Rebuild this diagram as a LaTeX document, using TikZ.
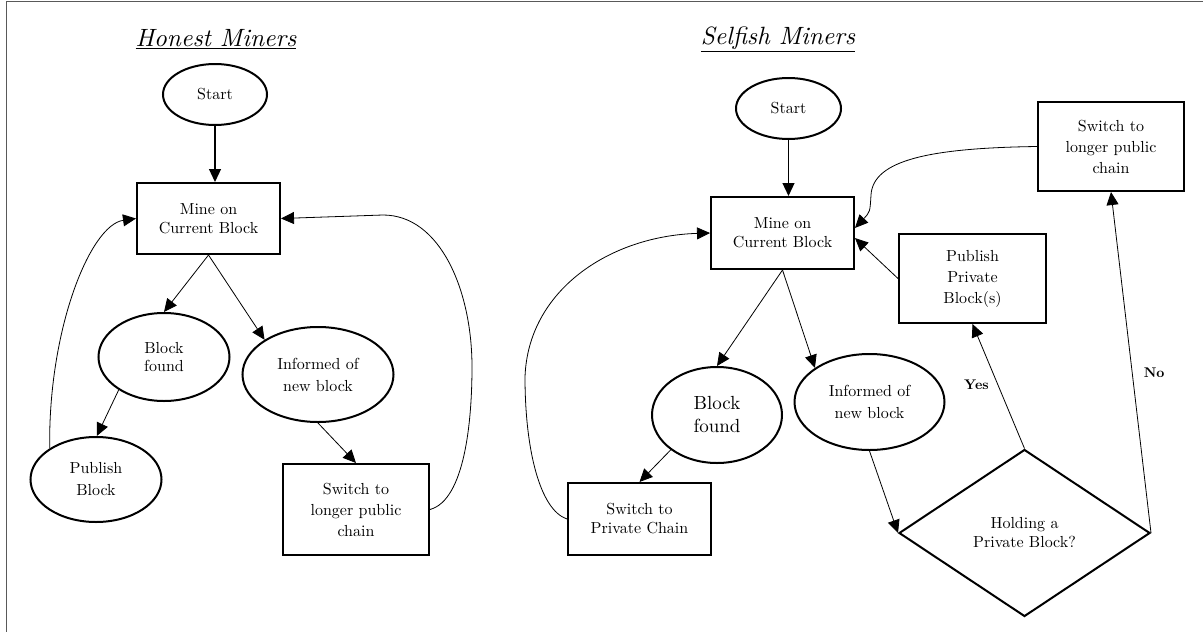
\documentclass[tikz,border=0pt]{standalone}
\usepackage{fontspec}
\setmainfont{lmroman10-regular.otf}[ItalicFont=lmroman10-italic.otf, BoldFont=lmroman10-bold.otf, BoldItalicFont=lmroman10-bolditalic.otf]
\usetikzlibrary{shapes.geometric,arrows.meta}
\begin{document}
\begin{tikzpicture}[x=1pt,y=-1pt,
  every node/.style={font=\fontsize{16}{21}\selectfont, align=center, inner sep=0pt},
  ell/.style={ellipse, draw, line width=2pt},
  box/.style={rectangle, draw, line width=2pt},
  dia/.style={diamond, draw, line width=2pt},
  conn/.style={line width=0.8pt, -{Triangle[length=13pt,width=12pt]}},
  sconn/.style={conn, line width=1.2pt},
  ttl/.style={font=\fontsize{25}{30}\selectfont\itshape},
  lbl/.style={font=\fontsize{14}{16}\selectfont\bfseries}]
\useasboundingbox (0,0) rectangle (1203,632);
\draw[line width=1pt, black!65] (6.5,632) -- (6.5,1.7) -- (1203,1.7);

% ---------- Honest miners ----------
\node[ttl] (hTitle) at (216,39) {\underline{Honest Miners}};
\node[ell, minimum width=104pt, minimum height=61pt] (hStart) at (215,94.5) {Start};
\node[box, minimum width=143pt, minimum height=71pt, font=\fontsize{16}{19}\selectfont] (hMine) at (208.5,218.5) {Mine on\\Current Block};
\node[ell, minimum width=131pt, minimum height=88pt, font=\fontsize{16}{18}\selectfont] (hBF) at (164,357) {Block\\found};
\node[ell, minimum width=151pt, minimum height=95pt, font=\fontsize{16}{22}\selectfont] (hInf) at (318,374.5) {Informed of\\new block};
\node[ell, minimum width=131pt, minimum height=85pt, font=\fontsize{16}{22}\selectfont] (hPub) at (96,479.5) {Publish\\Block};
\node[box, minimum width=146pt, minimum height=91pt] (hSw) at (356,509.5) {Switch to\\longer public\\chain};

\draw[sconn] (hStart.south) -- (hStart.south |- hMine.north);
\draw[conn] (hMine.south) -- (hBF.north);
\draw[conn] (hMine.south) -- (hInf.147);
\draw[conn] (hBF.216) -- (hPub.89);
\draw[conn] (hInf.south) -- (hSw.north);
\draw[conn] (hPub.146) .. controls (48,330) and (90,225) .. (hMine.west);
\draw[conn] (hSw.east) .. controls (465,500) and (472,420) .. (472,367)
  .. controls (472,290) and (440,215) .. (383,215) -- (hMine.east);

% ---------- Selfish miners ----------
\node[ttl] (sTitle) at (778,39) {\underline{Selfish Miners}};
\node[ell, minimum width=105pt, minimum height=61pt] (sStart) at (788.5,108.5) {Start};
\node[box, minimum width=143pt, minimum height=72pt, font=\fontsize{16}{19}\selectfont] (sMine) at (782.5,233) {Mine on\\Current Block};
\node[ell, minimum width=130pt, minimum height=96pt, font=\fontsize{19}{23}\selectfont] (sBF) at (717,415) {Block\\found};
\node[ell, minimum width=150pt, minimum height=96pt, font=\fontsize{16}{22}\selectfont] (sInf) at (869.5,402) {Informed of\\new block};
\node[box, minimum width=143pt, minimum height=72pt, font=\fontsize{16}{19}\selectfont] (sSP) at (639.5,519) {Switch to\\Private Chain};
\node[box, minimum width=147pt, minimum height=89pt] (sPub) at (972.5,278.5) {Publish\\Private\\Block(s)};
\node[box, minimum width=146pt, minimum height=89pt] (sSwP) at (1111,146.5) {Switch to\\longer public\\chain};
\node[dia, minimum width=251pt, minimum height=167pt, font=\fontsize{16}{19}\selectfont] (sDia) at (1024.5,533) {Holding a\\Private Block?};

\draw[sconn] (sStart.south) -- (sStart.south |- sMine.north);
\draw[conn] (sMine.south) -- (sBF.north);
\draw[conn] (sMine.south) -- (sInf.148);
\draw[conn] (sBF.217) -- (sSP.north);
\draw[conn] (sInf.south) -- (sDia.west);
\draw[conn] (sDia.north) -- node[lbl, midway, xshift=-22pt, yshift=2pt] (yesL) {Yes} (sPub.south);
\draw[conn] (sDia.east) -- node[lbl, pos=0.47, xshift=22pt] (noL) {No} (sSwP.south);
\draw[conn] (sPub.west) -- (sMine.-4);
\draw[conn] (sSwP.west) .. controls (930,148) and (873,160) .. (871,195)
  .. controls (870,212) .. (sMine.4);
\draw[conn] (sSP.west) .. controls (540,510) and (525,450) .. (525,377)
  .. controls (528,290) and (610,236) .. (sMine.west);
\end{tikzpicture}
\end{document}
